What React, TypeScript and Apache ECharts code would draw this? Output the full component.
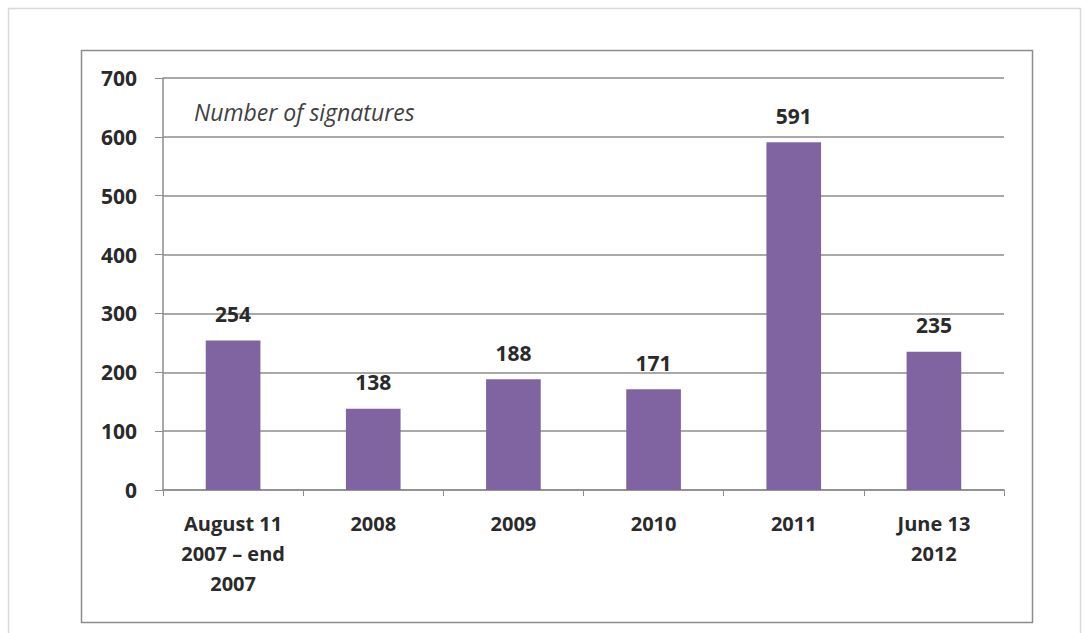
import React, { useEffect, useRef } from "react";
import * as echarts from "echarts";

const categories = ["August 11\n2007 – end\n2007", "2008", "2009", "2010", "2011", "June 13\n2012"];
const signatures = [254, 138, 188, 171, 591, 235];
const yTicks = { min: 0, max: 700, interval: 100 };
const chartTitle = "Number of signatures";

export default function App() {
  const ref = useRef<HTMLDivElement>(null);
  useEffect(() => {
    if (!ref.current) return;
    const chart = echarts.init(ref.current, null, { renderer: "svg" });
    const font = "'Open Sans', Lato, sans-serif";
    chart.setOption({
      animation: false,
      backgroundColor: "#ffffff",
      graphic: [
        { type: "rect", shape: { x: 8.5, y: 8.5, width: 1072, height: 640 }, style: { fill: "none", stroke: "#d9d9d9", lineWidth: 1.5 }, silent: true },
        { type: "rect", shape: { x: 81.5, y: 50.5, width: 951, height: 572 }, style: { fill: "none", stroke: "#8c8c8c", lineWidth: 1.5 }, silent: true },
        { type: "text", x: 194, y: 112, style: { text: chartTitle, font: "italic 23px " + font, fill: "#404040", verticalAlign: "middle" }, silent: true },
      ],
      grid: { left: 163, right: 86, top: 78, bottom: 143, containLabel: false },
      xAxis: {
        type: "category",
        data: categories,
        axisLine: { show: true, lineStyle: { color: "#8c8c8c", width: 1.5 } },
        axisTick: { show: true, length: 6, lineStyle: { color: "#8c8c8c" } },
        axisLabel: { fontFamily: font, fontWeight: "bold", fontSize: 20, color: "#2a2a2a", lineHeight: 30, margin: 18, interval: 0 },
      },
      yAxis: {
        type: "value",
        min: yTicks.min,
        max: yTicks.max,
        interval: yTicks.interval,
        axisLine: { show: true, lineStyle: { color: "#8c8c8c", width: 1.5 } },
        axisTick: { show: true, length: 8, inside: false, lineStyle: { color: "#8c8c8c" } },
        splitLine: { show: true, lineStyle: { color: "#8c8c8c", width: 1.5 } },
        axisLabel: { fontFamily: font, fontWeight: "bold", fontSize: 21, color: "#2a2a2a", margin: 26 },
      },
      series: [
        {
          type: "bar",
          data: signatures,
          barWidth: "39%",
          itemStyle: { color: "#8064A2" },
          label: { show: true, position: "top", distance: 16, fontFamily: font, fontWeight: "bold", fontSize: 21, color: "#2a2a2a" },
        },
      ],
    });
    return () => chart.dispose();
  }, []);
  return <div ref={ref} style={{ position: "absolute", left: 0, top: 0, width: 1090, height: 633 }} />;
}
